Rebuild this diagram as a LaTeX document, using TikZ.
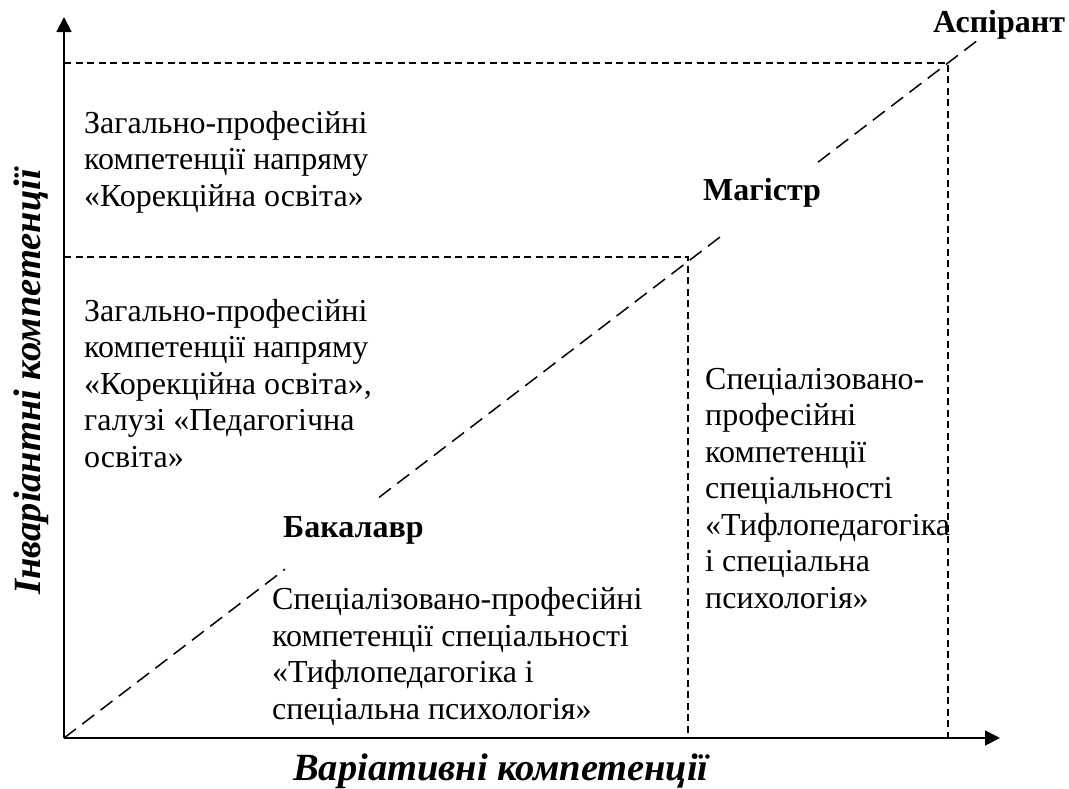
\documentclass[tikz,border=0pt]{standalone}
\usepackage{fontspec}
\setmainfont{Liberation Serif}
\usetikzlibrary{arrows.meta,calc}
\tikzset{
  axis/.style={line width=1.8pt,-{Triangle[length=15pt,width=15pt]}},
  guide/.style={line width=1.3pt,dash pattern=on 7pt off 4.5pt},
  diag/.style={line width=1.5pt,dash pattern=on 15pt off 8pt},
  body/.style={inner sep=0pt,anchor=base west,align=left,font=\fontsize{32}{36.5}\selectfont},
  lvl/.style={inner sep=0pt,anchor=base west,font=\fontsize{32}{36.5}\selectfont\bfseries},
  axlabel/.style={inner sep=0pt,anchor=base west,font=\fontsize{38.5}{44}\selectfont\bfseries\itshape},
}
\begin{document}
\begin{tikzpicture}[x=1pt,y=-1pt]
\useasboundingbox (0,0) rectangle (1069,788);
\coordinate (O) at (64,738);
\coordinate (Ytip) at (64,17);
\coordinate (Xtip) at (1000,738);
\coordinate (E) at (978,40);
\coordinate (A) at (948,63);
\coordinate (Ay) at (64,63);
\coordinate (Ax) at (948,738);
\coordinate (M) at (688,257);
\coordinate (My) at (64,257);
\coordinate (Mx) at (688,738);
\coordinate (d1) at ($(O)!0.2418!(E)$);
\coordinate (d2) at ($(O)!0.3446!(E)$);
\coordinate (d3) at ($(O)!0.721!(E)$);
\coordinate (d4) at ($(O)!0.825!(E)$);
% guide lines
\draw[guide] (Ay) -- (A) -- (Ax);
\draw[guide] (My) -- (M) -- (Mx);
% diagonal
\draw[diag] (O) -- (d1);
\draw[diag] (d2) -- (d3);
\draw[diag] (d4) -- (E);
% axes
\draw[axis] (O) -- (Ytip);
\draw[axis] (O) -- (Xtip);
% texts (base anchor = baseline of the last line)
\node[body] (t1) at (84,206) {Загально-професійні\\компетенції напряму\\«Корекційна освіта»};
\node[body] (t2) at (84,467) {Загально-професійні\\компетенції напряму\\«Корекційна освіта»,\\галузі «Педагогічна\\освіта»};
\node[body] (t3) at (705,608) {Спеціалізовано-\\професійні\\компетенції\\спеціальності\\«Тифлопедагогіка\\і спеціальна\\психологія»};
\node[body] (t4) at (272,719) {Спеціалізовано-професійні\\компетенції спеціальності\\«Тифлопедагогіка і\\спеціальна психологія»};
\node[lvl] (bak) at (283,537) {Бакалавр};
\node[lvl] (mag) at (703,200) {Магістр};
\node[lvl] (asp) at (933,32) {Аспірант};
\node[axlabel] (xl) at (293,780) {Варіативні компетенції};
\node[axlabel,rotate=90] (yl) at (40,595) {Інваріантні компетенції};
\end{tikzpicture}
\end{document}
